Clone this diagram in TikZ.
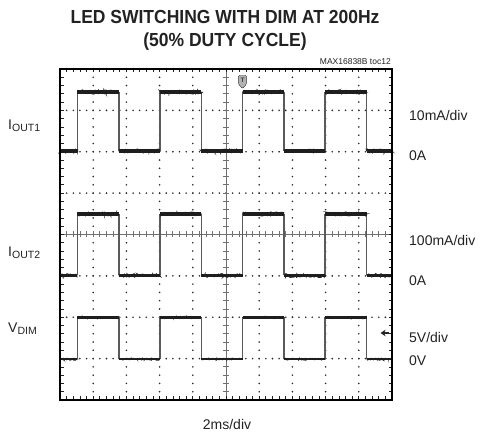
\documentclass[tikz,border=0pt]{standalone}
\usepackage{fontspec}
\setmainfont{Liberation Sans}
\usetikzlibrary{decorations.pathmorphing,arrows.meta}
\definecolor{tracec}{HTML}{1E1E1E}
\definecolor{edgec}{HTML}{5A5A5A}
\definecolor{gridc}{HTML}{2A2A2A}
\definecolor{axisc}{HTML}{707070}
\definecolor{txtc}{HTML}{222222}
\newcommand\sqwave[2]{%
  \foreach \k in {0,...,3}{%
    \pgfmathsetmacro\ra{77.3+82.6*\k}%
    \pgfmathsetmacro\fa{118.8+82.6*\k}%
    \draw[edgestyle] (\ra,#2) -- (\ra,#1);
    \draw[edgestyle] (\fa,#1) -- (\fa,#2);
  }%
}
\newcommand\flats[3]{%
  \foreach \k in {0,...,3}{%
    \pgfmathsetmacro\ra{77.3+82.6*\k}%
    \pgfmathsetmacro\fa{118.8+82.6*\k}%
    \pgfmathsetmacro\rn{\ifnum\k<3 77.3+82.6*(\k+1)\else 392\fi}%
    \draw[#3] (\ra,#1) -- (\fa,#1);
    \draw[#3] (\fa,#2) -- (\rn,#2);
  }%
  \draw[#3] (60,#2) -- (77.3,#2);
}
\begin{document}
\begin{tikzpicture}[x=1pt,y=-1pt,
  edgestyle/.style={edgec,line width=1.4pt},
  flatthick/.style={tracec,line width=3.4pt},
  fuzz/.style={tracec,line width=0.8pt,decorate,decoration={random steps,segment length=0.8pt,amplitude=1.9pt}},
  flatthin/.style={tracec,line width=2.2pt},
  dotstyle/.style={fill=gridc},
  labelstyle/.style={text=txtc,font=\fontsize{14}{16}\selectfont,inner sep=0pt},
  titlestyle/.style={text=txtc,font=\fontsize{17.5}{21}\selectfont\bfseries,inner sep=0pt,yscale=1.08},
]
\pgfmathsetseed{7}
\useasboundingbox (0,0) rectangle (480,435);
% title
\node[anchor=base,titlestyle] (t1) at (225,24) {LED SWITCHING WITH DIM AT 200Hz};
\node[anchor=base,titlestyle] (t2) at (225,46.7) {(50\% DUTY CYCLE)};
\node[anchor=base east,text=txtc,font=\fontsize{8.5}{10}\selectfont,inner sep=0pt] (toc) at (391,64.5) {MAX16838B toc12};
% grid dots
\foreach \k in {1,2,3,5,6,7}{
  \foreach \j in {1,...,49}{
    \fill[dotstyle] ({60+\j*6.64},{69+\k*41.375}) circle (0.9pt);
  }
}
\foreach \k in {1,2,3,4,6,7,8,9}{
  \foreach \j in {1,...,39}{
    \fill[dotstyle] ({60+\k*33.2},{69+\j*8.275}) circle (0.9pt);
  }
}
% centre axes
\draw[axisc,line width=1pt] (60,234.5) -- (392,234.5);
\draw[axisc,line width=1pt] (226,69) -- (226,400);
\foreach \j in {1,...,49}{
  \draw[axisc,line width=0.8pt] ({60+\j*6.64},231.5) -- ({60+\j*6.64},237.5);
  \draw[txtc,line width=0.7pt] ({60+\j*6.64},69) -- ({60+\j*6.64},72.5);
  \draw[txtc,line width=0.7pt] ({60+\j*6.64},400) -- ({60+\j*6.64},396.5);
}
\foreach \j in {1,...,39}{
  \draw[axisc,line width=0.8pt] (223,{69+\j*8.275}) -- (229,{69+\j*8.275});
  \draw[txtc,line width=0.7pt] (60,{69+\j*8.275}) -- (63.5,{69+\j*8.275});
  \draw[txtc,line width=0.7pt] (392,{69+\j*8.275}) -- (388.5,{69+\j*8.275});
}
% traces
\sqwave{92}{151}
\flats{92}{151}{flatthick}
\flats{92}{151}{fuzz}
\sqwave{214}{275.5}
\flats{214}{275.5}{flatthick}
\flats{214}{275.5}{fuzz}
\sqwave{317.5}{359}
\flats{317.5}{359}{flatthin}
\flats{317.5}{359.3}{tracec,line width=0.6pt,decorate,decoration={random steps,segment length=0.8pt,amplitude=1.1pt}}
% border
\draw[black,line width=2.6pt] (60,69) rectangle (392,400);
% markers
\draw[fill=gray!60,draw=gray!40!black,line width=0.4pt,rounded corners=1pt] (238.6,75.3) -- (246.4,75.3) -- (246.4,84.3) -- (242.5,88.6) -- (238.6,84.3) -- cycle;
\node[text=black!75,font=\fontsize{6.5}{7}\selectfont\bfseries,inner sep=0pt] (tmark) at (242.5,80.3) {T};
\draw[-{Stealth[length=5pt,width=6.5pt]},gray!30!black,line width=1.4pt] (388.5,333) -- (380.5,333);
% left labels
\node[labelstyle,anchor=base west] (i1) at (8,130) {I\raisebox{-1.2pt}{\fontsize{10.5}{12}\selectfont OUT1}};
\node[labelstyle,anchor=base west] (i2) at (8,257) {I\raisebox{-1.2pt}{\fontsize{10.5}{12}\selectfont OUT2}};
\node[labelstyle,anchor=base west] (vd) at (8,333) {V\raisebox{-1.2pt}{\fontsize{10.5}{12}\selectfont DIM}};
% right labels
\node[labelstyle,anchor=west] (r1) at (409,116) {10mA/div};
\node[labelstyle,anchor=west] (r2) at (409,156) {0A};
\node[labelstyle,anchor=west] (r3) at (409,240) {100mA/div};
\node[labelstyle,anchor=west] (r4) at (409,281) {0A};
\node[labelstyle,anchor=west] (r5) at (409,337) {5V/div};
\node[labelstyle,anchor=west] (r6) at (409,361) {0V};
\node[labelstyle,anchor=base] (xl) at (227,430) {2ms/div};
\end{tikzpicture}
\end{document}
